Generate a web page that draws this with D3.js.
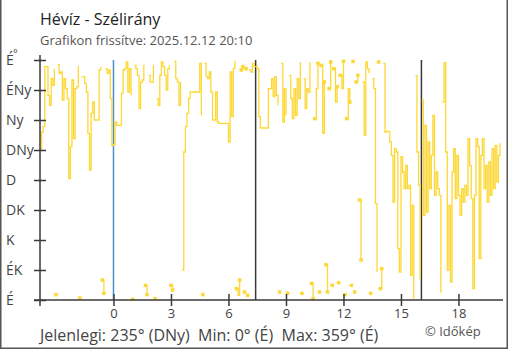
<!DOCTYPE html>
<html>
<head>
<meta charset="utf-8">
<script src="https://cdn.jsdelivr.net/npm/d3@7"></script>
<style>
  html, body { margin: 0; padding: 0; background: #fff; }
  svg { display: block; font-family: "Open Sans", sans-serif; }
</style>
</head>
<body>
<svg id="chart" width="510" height="350"></svg>
<script>
// Wind direction, degrees, one reading every 5 minutes from 20:10 the previous day
const startTime = "2025-12-11T20:10:00";
const stepMinutes = 5;
const directionRows = [
  [225, 252, 260, 350, 350, 307, 292, 332, 322, 347, 8, 353],
  [340, 342, 300, 332, 317, 302, 182, 230, 330, 242, 317, 320],
  [351, 3, 335, 335, 325, 312, 250, 195, 280, 297, 270, 270],
  [270, 345, 350, 30, 10, 347, 340, 345, 302, 232, 233, 267],
  [262, 262, 262, 310, 345, 347, 357, 312, 347, 307, 1, 352],
  [347, 337, 287, 327, 330, 353, 22, 8, 337, 327, 327, 352],
  [2, 302, 292, 337, 357, 350, 337, 315, 347, 352, 22, 15],
  [358, 332, 327, 292, 327, 45, 222, 260, 280, 302, 312, 312],
  [312, 312, 312, 312, 355, 277, 8, 355, 335, 332, 342, 312],
  [270, 270, 312, 267, 265, 265, 265, 265, 265, 265, 237, 342],
  [275, 347, 359, 17, 7, 30, 345, 350, 12, 347, 7, 345],
  [342, 355, 350, 350, 347, 275, 258, 258, 258, 258, 258, 317],
  [317, 332, 305, 335, 307, 292, 12, 355, 267, 317, 277, 10],
  [337, 302, 272, 317, 277, 332, 302, 357, 10, 332, 287, 317],
  [312, 357, 25, 2, 272, 317, 355, 12, 352, 250, 327, 53],
  [12, 317, 357, 22, 347, 297, 320, 26, 337, 317, 358, 8],
  [272, 317, 297, 22, 358, 12, 327, 337, 150, 60, 327, 247],
  [357, 347, 340, 10, 332, 317, 145, 42, 357, 17, 47, 355],
  [252, 253, 253, 237, 217, 147, 227, 222, 77, 42, 215, 192],
  [167, 202, 167, 172, 37, 142, 2, 337, 222, 172, 31, 300],
  [127, 262, 132, 237, 167, 217, 277, 157, 192, 167, 157, 11],
  [297, 356, 222, 45, 142, 27, 192, 227, 152, 217, 157, 127],
  [167, 147, 172, 157, 242, 202, 152, 17, 157, 242, 230, 62],
  [217, 242, 167, 202, 147, 207, 157, 227, 167, 232, 177, 217, 235]
];

// Axis ticks and labels
const dirTicks = [0, 45, 90, 135, 180, 225, 270, 315, 360];
const dirLabels = ["É", "ÉK", "K", "DK", "D", "DNy", "Ny", "ÉNy", "É"];
const hourTicks = [0, 3, 6, 9, 12, 15, 18];
const midnightTime = "2025-12-12T00:00:00";
const sunTimes = ["2025-12-12T07:25:00", "2025-12-12T16:04:00"];
const endTime = "2025-12-12T20:10:00";

const titleText = "Hévíz - Szélirány";
const subtitleText = "Grafikon frissítve: 2025.12.12 20:10";
const summaryText = "Jelenlegi: 235° (DNy)  Min: 0° (É)  Max: 359° (É)";
const creditText = "© Időkép";

const svg = d3.select("#chart");
const lineColor = "#fdd835";
const axisColor = "#3a3a3a";

const t0 = new Date(startTime);
const values = directionRows.flat();
const data = values.map((v, i) => ({ t: new Date(t0.getTime() + i * stepMinutes * 60000), v }));

const x = d3.scaleTime().domain([t0, new Date(endTime)]).range([40, 500]);
const y = d3.scaleLinear().domain([0, 360]).range([300, 60]);

// Outer frame (left, bottom, right)
svg.append("path")
  .attr("d", "M0.75,0 V348.25 H507.25 V0")
  .attr("fill", "none").attr("stroke", "#555").attr("stroke-width", 1.5);

// Titles
svg.append("text").attr("x", 40).attr("y", 25)
  .attr("font-size", 16).attr("fill", "#222").text(titleText);
svg.append("text").attr("x", 40).attr("y", 45)
  .attr("font-size", 13).attr("fill", "#555").text(subtitleText);

// Midnight and sunrise / sunset markers
svg.append("line")
  .attr("x1", x(new Date(midnightTime))).attr("x2", x(new Date(midnightTime)))
  .attr("y1", 60).attr("y2", 300)
  .attr("stroke", "#4a8fcc").attr("stroke-width", 1.5);
svg.selectAll("line.sun").data(sunTimes).join("line")
  .attr("class", "sun")
  .attr("x1", d => x(new Date(d))).attr("x2", d => x(new Date(d)))
  .attr("y1", 60).attr("y2", 300)
  .attr("stroke", axisColor).attr("stroke-width", 1.5);

// Split the series wherever the direction wraps round north
const segments = [];
let cur = [];
data.forEach((d, i) => {
  if (i > 0 && Math.abs(d.v - data[i - 1].v) > 180) {
    segments.push(cur);
    cur = [];
  }
  cur.push(d);
});
segments.push(cur);

const line = d3.line()
  .x(d => x(d.t)).y(d => y(d.v))
  .curve(d3.curveStepAfter);

const plot = svg.append("g");
plot.selectAll("path.seg").data(segments.filter(s => s.length > 1)).join("path")
  .attr("class", "seg")
  .attr("d", line)
  .attr("fill", "none")
  .attr("stroke", lineColor)
  .attr("stroke-width", 1.3);

// Markers on lone readings and on the ends of short runs next to a wrap
const markers = [];
segments.forEach(s => {
  if (s.length === 1) markers.push(s[0]);
  else if (s.length <= 3) { markers.push(s[0]); markers.push(s[s.length - 1]); }
});
plot.selectAll("rect.pt").data(markers).join("rect")
  .attr("class", "pt")
  .attr("x", d => x(d.t) - 1.75).attr("y", d => y(d.v) - 1.75)
  .attr("width", 3.5).attr("height", 3.5)
  .attr("fill", lineColor);

// Y axis
const yAxis = svg.append("g").attr("transform", "translate(40,0)")
  .call(d3.axisLeft(y).tickValues(dirTicks).tickFormat((d, i) => dirLabels[i]).tickSizeInner(6).tickSizeOuter(0));
yAxis.select(".domain").remove();
yAxis.selectAll(".tick line").attr("x1", 6).attr("x2", -6)
  .attr("stroke", axisColor).attr("stroke-width", 1.5);
yAxis.selectAll(".tick text").attr("x", -34).attr("text-anchor", "start")
  .attr("font-size", 14).attr("fill", "#444").attr("font-family", "Open Sans, sans-serif");
yAxis.append("line").attr("x1", 0).attr("x2", 0).attr("y1", 55).attr("y2", 306)
  .attr("stroke", axisColor).attr("stroke-width", 1.5);
svg.append("text").attr("x", 13).attr("y", 57)
  .attr("font-size", 11).attr("fill", "#444").text("°");

// X axis
const xAxis = svg.append("g").attr("transform", "translate(0,300)")
  .call(d3.axisBottom(x)
    .tickValues(hourTicks.map(h => new Date(new Date(midnightTime).getTime() + h * 3600000)))
    .tickFormat(d3.timeFormat("%-H"))
    .tickSizeInner(6).tickSizeOuter(0));
xAxis.select(".domain").remove();
xAxis.append("line").attr("x1", 34).attr("x2", 503).attr("y1", 0).attr("y2", 0)
  .attr("stroke", axisColor).attr("stroke-width", 1.5);
xAxis.selectAll(".tick line").attr("y1", -6).attr("y2", 6)
  .attr("stroke", axisColor).attr("stroke-width", 1.5);
xAxis.selectAll(".tick text").attr("y", 9)
  .attr("font-size", 13).attr("fill", "#444").attr("font-family", "Open Sans, sans-serif");

// Summary and credit
svg.append("text").attr("x", 40).attr("y", 341)
  .attr("font-size", 16).attr("fill", "#444")
  .style("white-space", "pre").text(summaryText);
svg.append("text").attr("x", 425).attr("y", 336)
  .attr("font-size", 13).attr("fill", "#555").text(creditText);
</script>
</body>
</html>
